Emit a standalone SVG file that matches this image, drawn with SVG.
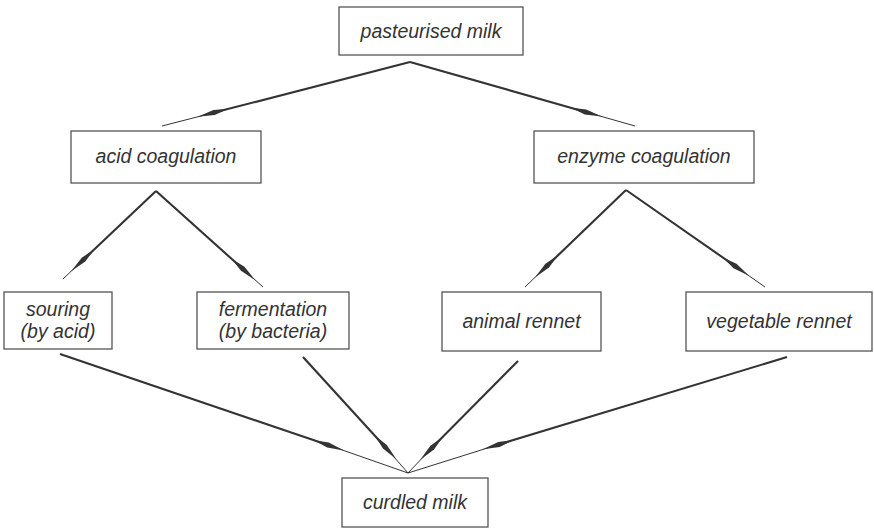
<svg xmlns="http://www.w3.org/2000/svg" width="874" height="528" viewBox="0 0 874 528">
<style>
.box{fill:#fff;stroke:#555;stroke-width:1.3}
.lbl{font-family:"Liberation Sans",Arial,sans-serif;font-style:italic;font-size:19.5px;fill:#333;text-anchor:middle}
.c{fill:none;stroke:#333;stroke-width:2.1}
.t{fill:none;stroke:#333;stroke-width:1}
</style>
<defs>
<marker id="sp" markerUnits="userSpaceOnUse" markerWidth="40" markerHeight="10" viewBox="-20 -5 40 10" refX="0" refY="0" orient="auto" overflow="visible">
<path d="M-15,0 L0,-2.6 L17,0 L0,2.6 Z" fill="#333"/>
</marker>
</defs>
<rect width="874" height="528" fill="#fff"/>
<g id="connectors">
<path class="c" d="M410,62 L214.1,112.6" marker-end="url(#sp)"/><path class="t" d="M214.1,112.6 L162,126"/>
<path class="c" d="M410,62 L585.5,111.9" marker-end="url(#sp)"/><path class="t" d="M585.5,111.9 L635,126"/>
<path class="c" d="M156,191 L83.5,259.6" marker-end="url(#sp)"/><path class="t" d="M83.5,259.6 L63,279"/>
<path class="c" d="M156,191 L242.7,268.8" marker-end="url(#sp)"/><path class="t" d="M242.7,268.8 L263,287"/>
<path class="c" d="M626,190 L547.2,265.7" marker-end="url(#sp)"/><path class="t" d="M547.2,265.7 L525,287"/>
<path class="c" d="M626,190 L735,266" marker-end="url(#sp)"/><path class="t" d="M735,266 L765,287"/>
<path class="c" d="M60,354 L328,445" marker-end="url(#sp)"/><path class="t" d="M328,445 L408,473"/>
<path class="c" d="M303,357 L384.9,446.7" marker-end="url(#sp)"/><path class="t" d="M384.9,446.7 L408,473"/>
<path class="c" d="M518,361 L432.2,447.6" marker-end="url(#sp)"/><path class="t" d="M432.2,447.6 L408,473"/>
<path class="c" d="M787,357 L499,444.4" marker-end="url(#sp)"/><path class="t" d="M499,444.4 L408,473"/>
</g>
<g id="pasteurised"><rect class="box" x="339" y="7" width="184" height="48"/><text class="lbl" x="431" y="38">pasteurised milk</text></g>
<g id="acid"><rect class="box" x="71" y="131" width="190" height="52"/><text class="lbl" x="166" y="163">acid coagulation</text></g>
<g id="enzyme"><rect class="box" x="534" y="131" width="220" height="52"/><text class="lbl" x="644" y="163">enzyme coagulation</text></g>
<g id="souring"><rect class="box" x="4" y="292" width="108" height="57"/><text class="lbl" x="58" y="316">souring</text><text class="lbl" x="58" y="338">(by acid)</text></g>
<g id="fermentation"><rect class="box" x="197" y="292" width="152" height="57"/><text class="lbl" x="273" y="316">fermentation</text><text class="lbl" x="273" y="338">(by bacteria)</text></g>
<g id="animal"><rect class="box" x="442" y="292" width="159" height="59"/><text class="lbl" x="521.5" y="328">animal rennet</text></g>
<g id="vegetable"><rect class="box" x="686" y="292" width="186" height="59"/><text class="lbl" x="779" y="328">vegetable rennet</text></g>
<g id="curdled"><rect class="box" x="342" y="478" width="146" height="49"/><text class="lbl" x="415" y="509">curdled milk</text></g>
</svg>
